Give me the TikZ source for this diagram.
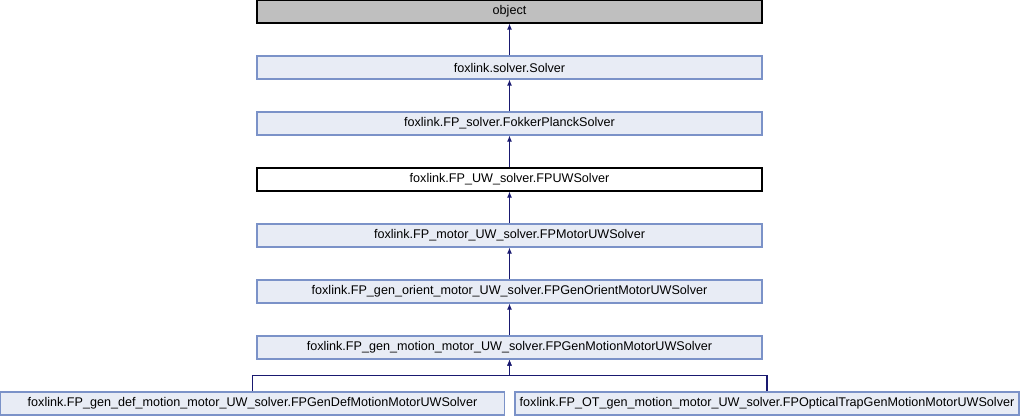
\documentclass[tikz,border=0pt]{standalone}
\usepackage{fontspec}
\setmainfont{Liberation Sans}
\usetikzlibrary{arrows.meta}
\definecolor{boxfill}{RGB}{232,236,245}
\definecolor{boxline}{RGB}{123,146,200}
\definecolor{objfill}{RGB}{191,191,191}
\definecolor{edgecol}{RGB}{25,25,112}
\begin{document}
\begin{tikzpicture}[x=1pt,y=1pt,
  cls/.style={draw=boxline, fill=boxfill, line width=1.1pt, minimum height=23pt, inner sep=0pt, font=\fontsize{12.6}{14}\selectfont},
  mainbox/.style={cls, minimum width=505pt},
  arr/.style={draw=edgecol, line width=1.1pt, -{Latex[length=6pt,width=5pt]}}]
\useasboundingbox (0,0) rectangle (1020,416);
\node[mainbox, draw=black, fill=objfill] (obj) at (509.5,404.5) {object};
\node[mainbox] (solver) at (509.5,348.5) {foxlink.solver.Solver};
\node[mainbox] (fps) at (509.5,292.5) {foxlink.FP\_solver.FokkerPlanckSolver};
\node[mainbox, draw=black, fill=white] (uw) at (509.5,236.5) {foxlink.FP\_UW\_solver.FPUWSolver};
\node[mainbox] (motor) at (509.5,180.5) {foxlink.FP\_motor\_UW\_solver.FPMotorUWSolver};
\node[mainbox] (orient) at (509.5,124.5) {foxlink.FP\_gen\_orient\_motor\_UW\_solver.FPGenOrientMotorUWSolver};
\node[mainbox] (gm) at (509.5,68.5) {foxlink.FP\_gen\_motion\_motor\_UW\_solver.FPGenMotionMotorUWSolver};
\node[cls, minimum width=504pt] (lb) at (252.5,12.5) {foxlink.FP\_gen\_def\_motion\_motor\_UW\_solver.FPGenDefMotionMotorUWSolver};
\node[cls, minimum width=504pt] (rb) at (767,12.5) {foxlink.FP\_OT\_gen\_motion\_motor\_UW\_solver.FPOpticalTrapGenMotionMotorUWSolver};
\draw[arr] (solver) -- (obj);
\draw[arr] (fps) -- (solver);
\draw[arr] (uw) -- (fps);
\draw[arr] (motor) -- (uw);
\draw[arr] (orient) -- (motor);
\draw[arr] (gm) -- (orient);
\draw[arr] (lb.north) -- ++(0,16) -| (gm.south);
\draw[arr] (rb.north) -- ++(0,16) -| (gm.south);
\end{tikzpicture}
\end{document}
